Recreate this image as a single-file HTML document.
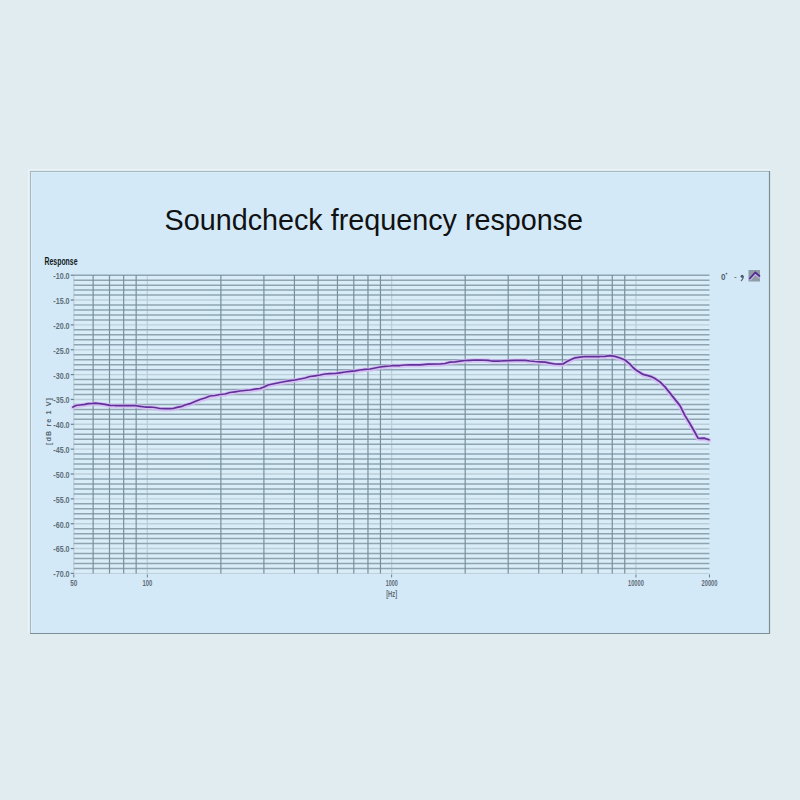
<!DOCTYPE html>
<html><head><meta charset="utf-8"><style>
html,body{margin:0;padding:0;}
body{width:800px;height:800px;background:#e1ecf0;position:relative;overflow:hidden;font-family:"Liberation Sans",sans-serif;}
svg{position:absolute;left:0;top:0;}
.tk{font-family:"Liberation Sans",sans-serif;font-size:9.3px;font-weight:bold;fill:#5f6d77;}
</style></head><body>
<svg width="800" height="800" viewBox="0 0 800 800">
<line x1="28" y1="169.5" x2="770" y2="169.5" stroke="#eaf2f7" stroke-width="1"/>
<line x1="28.5" y1="169" x2="28.5" y2="633" stroke="#eaf2f7" stroke-width="1"/>
<rect x="30" y="171" width="740" height="463" fill="#d3e9f8"/>
<line x1="30" y1="171.5" x2="769" y2="171.5" stroke="#a6b9c0" stroke-width="1"/>
<line x1="30.5" y1="171" x2="30.5" y2="633" stroke="#a6b9c0" stroke-width="1"/>
<line x1="769.5" y1="171" x2="769.5" y2="634" stroke="#7c8e96" stroke-width="1.2"/>
<line x1="30" y1="633.5" x2="770" y2="633.5" stroke="#7c8e96" stroke-width="1.2"/>
<line x1="31" y1="172.5" x2="768" y2="172.5" stroke="#daeef9" stroke-width="1"/>
<line x1="31.5" y1="172" x2="31.5" y2="632" stroke="#daeef9" stroke-width="1"/>
<text x="164.6" y="229.6" font-family="Liberation Sans" font-size="29.4" fill="#111" textLength="418.5" lengthAdjust="spacingAndGlyphs">Soundcheck frequency response</text>
<text x="44.5" y="264.6" font-family="Liberation Sans" font-weight="bold" font-size="10.6" fill="#111a22" textLength="33" lengthAdjust="spacingAndGlyphs">Response</text>
<rect x="73.8" y="275.2" width="635.68" height="298.20" fill="#d9edf9"/>
<line x1="73.8" y1="275.20" x2="73.8" y2="573.40" stroke="#bccfd9" stroke-width="1.2"/>
<line x1="147.34" y1="275.20" x2="147.34" y2="573.40" stroke="#bccfd9" stroke-width="1.3"/>
<line x1="391.64" y1="275.20" x2="391.64" y2="573.40" stroke="#bccfd9" stroke-width="1.3"/>
<line x1="635.94" y1="275.20" x2="635.94" y2="573.40" stroke="#bccfd9" stroke-width="1.3"/>
<line x1="73.8" y1="300.05" x2="709.48" y2="300.05" stroke="#bccfd9" stroke-width="1.4"/>
<line x1="73.8" y1="324.90" x2="709.48" y2="324.90" stroke="#bccfd9" stroke-width="1.4"/>
<line x1="73.8" y1="349.75" x2="709.48" y2="349.75" stroke="#bccfd9" stroke-width="1.4"/>
<line x1="73.8" y1="374.60" x2="709.48" y2="374.60" stroke="#bccfd9" stroke-width="1.4"/>
<line x1="73.8" y1="399.45" x2="709.48" y2="399.45" stroke="#bccfd9" stroke-width="1.4"/>
<line x1="73.8" y1="424.30" x2="709.48" y2="424.30" stroke="#bccfd9" stroke-width="1.4"/>
<line x1="73.8" y1="449.15" x2="709.48" y2="449.15" stroke="#bccfd9" stroke-width="1.4"/>
<line x1="73.8" y1="474.00" x2="709.48" y2="474.00" stroke="#bccfd9" stroke-width="1.4"/>
<line x1="73.8" y1="498.85" x2="709.48" y2="498.85" stroke="#bccfd9" stroke-width="1.4"/>
<line x1="73.8" y1="523.70" x2="709.48" y2="523.70" stroke="#bccfd9" stroke-width="1.4"/>
<line x1="73.8" y1="548.55" x2="709.48" y2="548.55" stroke="#bccfd9" stroke-width="1.4"/>
<line x1="73.8" y1="573.40" x2="709.48" y2="573.40" stroke="#bccfd9" stroke-width="1"/>
<line x1="73.8" y1="275.20" x2="709.48" y2="275.20" stroke="#8ea4b0" stroke-width="1.5"/>
<line x1="73.8" y1="280.17" x2="709.48" y2="280.17" stroke="#8ea4b0" stroke-width="1.5"/>
<line x1="73.8" y1="285.14" x2="709.48" y2="285.14" stroke="#8ea4b0" stroke-width="1.5"/>
<line x1="73.8" y1="290.11" x2="709.48" y2="290.11" stroke="#8ea4b0" stroke-width="1.5"/>
<line x1="73.8" y1="295.08" x2="709.48" y2="295.08" stroke="#8ea4b0" stroke-width="1.5"/>
<line x1="73.8" y1="305.02" x2="709.48" y2="305.02" stroke="#8ea4b0" stroke-width="1.5"/>
<line x1="73.8" y1="309.99" x2="709.48" y2="309.99" stroke="#8ea4b0" stroke-width="1.5"/>
<line x1="73.8" y1="314.96" x2="709.48" y2="314.96" stroke="#8ea4b0" stroke-width="1.5"/>
<line x1="73.8" y1="319.93" x2="709.48" y2="319.93" stroke="#8ea4b0" stroke-width="1.5"/>
<line x1="73.8" y1="329.87" x2="709.48" y2="329.87" stroke="#8ea4b0" stroke-width="1.5"/>
<line x1="73.8" y1="334.84" x2="709.48" y2="334.84" stroke="#8ea4b0" stroke-width="1.5"/>
<line x1="73.8" y1="339.81" x2="709.48" y2="339.81" stroke="#8ea4b0" stroke-width="1.5"/>
<line x1="73.8" y1="344.78" x2="709.48" y2="344.78" stroke="#8ea4b0" stroke-width="1.5"/>
<line x1="73.8" y1="354.72" x2="709.48" y2="354.72" stroke="#8ea4b0" stroke-width="1.5"/>
<line x1="73.8" y1="359.69" x2="709.48" y2="359.69" stroke="#8ea4b0" stroke-width="1.5"/>
<line x1="73.8" y1="364.66" x2="709.48" y2="364.66" stroke="#8ea4b0" stroke-width="1.5"/>
<line x1="73.8" y1="369.63" x2="709.48" y2="369.63" stroke="#8ea4b0" stroke-width="1.5"/>
<line x1="73.8" y1="379.57" x2="709.48" y2="379.57" stroke="#8ea4b0" stroke-width="1.5"/>
<line x1="73.8" y1="384.54" x2="709.48" y2="384.54" stroke="#8ea4b0" stroke-width="1.5"/>
<line x1="73.8" y1="389.51" x2="709.48" y2="389.51" stroke="#8ea4b0" stroke-width="1.5"/>
<line x1="73.8" y1="394.48" x2="709.48" y2="394.48" stroke="#8ea4b0" stroke-width="1.5"/>
<line x1="73.8" y1="404.42" x2="709.48" y2="404.42" stroke="#8ea4b0" stroke-width="1.5"/>
<line x1="73.8" y1="409.39" x2="709.48" y2="409.39" stroke="#8ea4b0" stroke-width="1.5"/>
<line x1="73.8" y1="414.36" x2="709.48" y2="414.36" stroke="#8ea4b0" stroke-width="1.5"/>
<line x1="73.8" y1="419.33" x2="709.48" y2="419.33" stroke="#8ea4b0" stroke-width="1.5"/>
<line x1="73.8" y1="429.27" x2="709.48" y2="429.27" stroke="#8ea4b0" stroke-width="1.5"/>
<line x1="73.8" y1="434.24" x2="709.48" y2="434.24" stroke="#8ea4b0" stroke-width="1.5"/>
<line x1="73.8" y1="439.21" x2="709.48" y2="439.21" stroke="#8ea4b0" stroke-width="1.5"/>
<line x1="73.8" y1="444.18" x2="709.48" y2="444.18" stroke="#8ea4b0" stroke-width="1.5"/>
<line x1="73.8" y1="454.12" x2="709.48" y2="454.12" stroke="#8ea4b0" stroke-width="1.5"/>
<line x1="73.8" y1="459.09" x2="709.48" y2="459.09" stroke="#8ea4b0" stroke-width="1.5"/>
<line x1="73.8" y1="464.06" x2="709.48" y2="464.06" stroke="#8ea4b0" stroke-width="1.5"/>
<line x1="73.8" y1="469.03" x2="709.48" y2="469.03" stroke="#8ea4b0" stroke-width="1.5"/>
<line x1="73.8" y1="478.97" x2="709.48" y2="478.97" stroke="#8ea4b0" stroke-width="1.5"/>
<line x1="73.8" y1="483.94" x2="709.48" y2="483.94" stroke="#8ea4b0" stroke-width="1.5"/>
<line x1="73.8" y1="488.91" x2="709.48" y2="488.91" stroke="#8ea4b0" stroke-width="1.5"/>
<line x1="73.8" y1="493.88" x2="709.48" y2="493.88" stroke="#8ea4b0" stroke-width="1.5"/>
<line x1="73.8" y1="503.82" x2="709.48" y2="503.82" stroke="#8ea4b0" stroke-width="1.5"/>
<line x1="73.8" y1="508.79" x2="709.48" y2="508.79" stroke="#8ea4b0" stroke-width="1.5"/>
<line x1="73.8" y1="513.76" x2="709.48" y2="513.76" stroke="#8ea4b0" stroke-width="1.5"/>
<line x1="73.8" y1="518.73" x2="709.48" y2="518.73" stroke="#8ea4b0" stroke-width="1.5"/>
<line x1="73.8" y1="528.67" x2="709.48" y2="528.67" stroke="#8ea4b0" stroke-width="1.5"/>
<line x1="73.8" y1="533.64" x2="709.48" y2="533.64" stroke="#8ea4b0" stroke-width="1.5"/>
<line x1="73.8" y1="538.61" x2="709.48" y2="538.61" stroke="#8ea4b0" stroke-width="1.5"/>
<line x1="73.8" y1="543.58" x2="709.48" y2="543.58" stroke="#8ea4b0" stroke-width="1.5"/>
<line x1="73.8" y1="553.52" x2="709.48" y2="553.52" stroke="#8ea4b0" stroke-width="1.5"/>
<line x1="73.8" y1="558.49" x2="709.48" y2="558.49" stroke="#8ea4b0" stroke-width="1.5"/>
<line x1="73.8" y1="563.46" x2="709.48" y2="563.46" stroke="#8ea4b0" stroke-width="1.5"/>
<line x1="73.8" y1="568.43" x2="709.48" y2="568.43" stroke="#8ea4b0" stroke-width="1.5"/>
<line x1="93.14" y1="275.20" x2="93.14" y2="573.40" stroke="#77909c" stroke-width="1.2"/>
<line x1="109.50" y1="275.20" x2="109.50" y2="573.40" stroke="#77909c" stroke-width="1.2"/>
<line x1="123.67" y1="275.20" x2="123.67" y2="573.40" stroke="#77909c" stroke-width="1.2"/>
<line x1="136.16" y1="275.20" x2="136.16" y2="573.40" stroke="#77909c" stroke-width="1.2"/>
<line x1="220.88" y1="275.20" x2="220.88" y2="573.40" stroke="#77909c" stroke-width="1.2"/>
<line x1="263.90" y1="275.20" x2="263.90" y2="573.40" stroke="#77909c" stroke-width="1.2"/>
<line x1="294.42" y1="275.20" x2="294.42" y2="573.40" stroke="#77909c" stroke-width="1.2"/>
<line x1="318.10" y1="275.20" x2="318.10" y2="573.40" stroke="#77909c" stroke-width="1.2"/>
<line x1="337.44" y1="275.20" x2="337.44" y2="573.40" stroke="#77909c" stroke-width="1.2"/>
<line x1="353.80" y1="275.20" x2="353.80" y2="573.40" stroke="#77909c" stroke-width="1.2"/>
<line x1="367.97" y1="275.20" x2="367.97" y2="573.40" stroke="#77909c" stroke-width="1.2"/>
<line x1="380.46" y1="275.20" x2="380.46" y2="573.40" stroke="#77909c" stroke-width="1.2"/>
<line x1="465.18" y1="275.20" x2="465.18" y2="573.40" stroke="#77909c" stroke-width="1.2"/>
<line x1="508.20" y1="275.20" x2="508.20" y2="573.40" stroke="#77909c" stroke-width="1.2"/>
<line x1="538.72" y1="275.20" x2="538.72" y2="573.40" stroke="#77909c" stroke-width="1.2"/>
<line x1="562.40" y1="275.20" x2="562.40" y2="573.40" stroke="#77909c" stroke-width="1.2"/>
<line x1="581.74" y1="275.20" x2="581.74" y2="573.40" stroke="#77909c" stroke-width="1.2"/>
<line x1="598.10" y1="275.20" x2="598.10" y2="573.40" stroke="#77909c" stroke-width="1.2"/>
<line x1="612.27" y1="275.20" x2="612.27" y2="573.40" stroke="#77909c" stroke-width="1.2"/>
<line x1="624.76" y1="275.20" x2="624.76" y2="573.40" stroke="#77909c" stroke-width="1.2"/>
<line x1="70.8" y1="275.20" x2="73.8" y2="275.20" stroke="#6a7f8a" stroke-width="1.2"/>
<text x="69.6" y="279.10" text-anchor="end" class="tk" textLength="16.3" lengthAdjust="spacingAndGlyphs">-10.0</text>
<line x1="70.8" y1="300.05" x2="73.8" y2="300.05" stroke="#6a7f8a" stroke-width="1.2"/>
<text x="69.6" y="303.95" text-anchor="end" class="tk" textLength="16.3" lengthAdjust="spacingAndGlyphs">-15.0</text>
<line x1="70.8" y1="324.90" x2="73.8" y2="324.90" stroke="#6a7f8a" stroke-width="1.2"/>
<text x="69.6" y="328.80" text-anchor="end" class="tk" textLength="16.3" lengthAdjust="spacingAndGlyphs">-20.0</text>
<line x1="70.8" y1="349.75" x2="73.8" y2="349.75" stroke="#6a7f8a" stroke-width="1.2"/>
<text x="69.6" y="353.65" text-anchor="end" class="tk" textLength="16.3" lengthAdjust="spacingAndGlyphs">-25.0</text>
<line x1="70.8" y1="374.60" x2="73.8" y2="374.60" stroke="#6a7f8a" stroke-width="1.2"/>
<text x="69.6" y="378.50" text-anchor="end" class="tk" textLength="16.3" lengthAdjust="spacingAndGlyphs">-30.0</text>
<line x1="70.8" y1="399.45" x2="73.8" y2="399.45" stroke="#6a7f8a" stroke-width="1.2"/>
<text x="69.6" y="403.35" text-anchor="end" class="tk" textLength="16.3" lengthAdjust="spacingAndGlyphs">-35.0</text>
<line x1="70.8" y1="424.30" x2="73.8" y2="424.30" stroke="#6a7f8a" stroke-width="1.2"/>
<text x="69.6" y="428.20" text-anchor="end" class="tk" textLength="16.3" lengthAdjust="spacingAndGlyphs">-40.0</text>
<line x1="70.8" y1="449.15" x2="73.8" y2="449.15" stroke="#6a7f8a" stroke-width="1.2"/>
<text x="69.6" y="453.05" text-anchor="end" class="tk" textLength="16.3" lengthAdjust="spacingAndGlyphs">-45.0</text>
<line x1="70.8" y1="474.00" x2="73.8" y2="474.00" stroke="#6a7f8a" stroke-width="1.2"/>
<text x="69.6" y="477.90" text-anchor="end" class="tk" textLength="16.3" lengthAdjust="spacingAndGlyphs">-50.0</text>
<line x1="70.8" y1="498.85" x2="73.8" y2="498.85" stroke="#6a7f8a" stroke-width="1.2"/>
<text x="69.6" y="502.75" text-anchor="end" class="tk" textLength="16.3" lengthAdjust="spacingAndGlyphs">-55.0</text>
<line x1="70.8" y1="523.70" x2="73.8" y2="523.70" stroke="#6a7f8a" stroke-width="1.2"/>
<text x="69.6" y="527.60" text-anchor="end" class="tk" textLength="16.3" lengthAdjust="spacingAndGlyphs">-60.0</text>
<line x1="70.8" y1="548.55" x2="73.8" y2="548.55" stroke="#6a7f8a" stroke-width="1.2"/>
<text x="69.6" y="552.45" text-anchor="end" class="tk" textLength="16.3" lengthAdjust="spacingAndGlyphs">-65.0</text>
<line x1="70.8" y1="573.40" x2="73.8" y2="573.40" stroke="#6a7f8a" stroke-width="1.2"/>
<text x="69.6" y="577.30" text-anchor="end" class="tk" textLength="16.3" lengthAdjust="spacingAndGlyphs">-70.0</text>
<line x1="73.80" y1="574.40" x2="73.80" y2="577.40" stroke="#6a7f8a" stroke-width="1"/>
<text x="73.80" y="586.3" text-anchor="middle" class="tk" textLength="7.1" lengthAdjust="spacingAndGlyphs">50</text>
<line x1="147.34" y1="574.40" x2="147.34" y2="577.40" stroke="#6a7f8a" stroke-width="1"/>
<text x="147.34" y="586.3" text-anchor="middle" class="tk" textLength="9.8" lengthAdjust="spacingAndGlyphs">100</text>
<line x1="391.64" y1="574.40" x2="391.64" y2="577.40" stroke="#6a7f8a" stroke-width="1"/>
<text x="391.64" y="586.3" text-anchor="middle" class="tk" textLength="12" lengthAdjust="spacingAndGlyphs">1000</text>
<line x1="635.94" y1="574.40" x2="635.94" y2="577.40" stroke="#6a7f8a" stroke-width="1"/>
<text x="635.94" y="586.3" text-anchor="middle" class="tk" textLength="15.9" lengthAdjust="spacingAndGlyphs">10000</text>
<line x1="709.48" y1="574.40" x2="709.48" y2="577.40" stroke="#6a7f8a" stroke-width="1"/>
<text x="709.48" y="586.3" text-anchor="middle" class="tk" textLength="15.9" lengthAdjust="spacingAndGlyphs">20000</text>
<text x="391.64" y="596.9" text-anchor="middle" class="tk" textLength="11" lengthAdjust="spacingAndGlyphs">[Hz]</text>
<text transform="translate(50.9,421.5) rotate(-90)" text-anchor="middle" class="tk" style="font-size:7.2px;fill:#55636d" textLength="47" lengthAdjust="spacing">[dB re 1 V]</text>
<path d="M73.0,407.00 L76.0,405.50 L80.0,405.00 L85.0,404.30 L88.0,403.70 L92.0,403.50 L95.0,403.20 L100.0,403.70 L105.0,404.30 L110.0,405.30 L115.0,405.50 L125.0,405.50 L135.0,405.50 L140.0,406.30 L145.0,407.00 L150.0,407.00 L155.0,407.50 L160.0,408.50 L165.0,408.70 L170.0,408.70 L173.0,408.50 L177.0,407.30 L182.0,406.30 L185.0,405.00 L190.0,403.70 L195.0,401.50 L200.0,399.50 L205.0,398.00 L210.0,396.00 L215.0,395.50 L220.0,394.50 L225.0,394.00 L230.0,392.50 L235.0,391.80 L240.0,391.00 L245.0,390.50 L250.0,390.00 L255.0,389.20 L260.0,388.50 L264.0,387.00 L268.0,385.00 L275.0,383.50 L280.0,382.50 L285.0,381.50 L290.0,380.70 L295.0,380.00 L300.0,379.00 L305.0,378.00 L310.0,376.50 L315.0,375.80 L320.0,375.00 L325.0,374.00 L330.0,373.70 L335.0,373.50 L340.0,372.80 L345.0,372.00 L350.0,371.30 L355.0,370.80 L360.0,370.00 L365.0,369.30 L370.0,369.00 L375.0,368.00 L380.0,367.00 L385.0,366.30 L390.0,366.00 L393.0,365.50 L400.0,365.50 L405.0,365.00 L410.0,364.80 L420.0,364.80 L428.0,364.20 L440.0,364.00 L445.0,363.50 L450.0,362.20 L455.0,361.80 L460.0,361.20 L465.0,360.50 L470.0,360.30 L475.0,360.00 L480.0,360.00 L488.0,360.30 L492.0,361.00 L500.0,361.00 L508.0,360.70 L515.0,360.30 L525.0,360.30 L530.0,361.00 L535.0,361.50 L540.0,361.80 L545.0,362.20 L550.0,363.20 L555.0,364.00 L560.0,364.20 L563.0,364.00 L567.0,361.50 L570.0,360.00 L575.0,357.80 L580.0,357.20 L585.0,356.50 L590.0,356.50 L600.0,356.50 L605.0,356.30 L610.0,355.70 L615.0,356.30 L620.0,358.00 L625.0,360.00 L630.0,364.20 L633.0,367.50 L636.0,370.00 L640.0,372.50 L643.0,374.40 L648.0,375.60 L652.0,376.90 L655.0,378.50 L660.0,381.90 L665.0,386.90 L670.0,393.10 L675.0,399.40 L680.0,405.60 L685.0,415.60 L690.0,423.75 L695.0,432.50 L698.0,438.10 L700.0,438.40 L704.0,438.10 L709.0,439.75" transform="translate(0,0.5)" fill="none" stroke="#d8baf4" stroke-width="4.6" stroke-linejoin="round" stroke-linecap="round" opacity="0.8"/>
<path d="M73.0,407.00 L76.0,405.50 L80.0,405.00 L85.0,404.30 L88.0,403.70 L92.0,403.50 L95.0,403.20 L100.0,403.70 L105.0,404.30 L110.0,405.30 L115.0,405.50 L125.0,405.50 L135.0,405.50 L140.0,406.30 L145.0,407.00 L150.0,407.00 L155.0,407.50 L160.0,408.50 L165.0,408.70 L170.0,408.70 L173.0,408.50 L177.0,407.30 L182.0,406.30 L185.0,405.00 L190.0,403.70 L195.0,401.50 L200.0,399.50 L205.0,398.00 L210.0,396.00 L215.0,395.50 L220.0,394.50 L225.0,394.00 L230.0,392.50 L235.0,391.80 L240.0,391.00 L245.0,390.50 L250.0,390.00 L255.0,389.20 L260.0,388.50 L264.0,387.00 L268.0,385.00 L275.0,383.50 L280.0,382.50 L285.0,381.50 L290.0,380.70 L295.0,380.00 L300.0,379.00 L305.0,378.00 L310.0,376.50 L315.0,375.80 L320.0,375.00 L325.0,374.00 L330.0,373.70 L335.0,373.50 L340.0,372.80 L345.0,372.00 L350.0,371.30 L355.0,370.80 L360.0,370.00 L365.0,369.30 L370.0,369.00 L375.0,368.00 L380.0,367.00 L385.0,366.30 L390.0,366.00 L393.0,365.50 L400.0,365.50 L405.0,365.00 L410.0,364.80 L420.0,364.80 L428.0,364.20 L440.0,364.00 L445.0,363.50 L450.0,362.20 L455.0,361.80 L460.0,361.20 L465.0,360.50 L470.0,360.30 L475.0,360.00 L480.0,360.00 L488.0,360.30 L492.0,361.00 L500.0,361.00 L508.0,360.70 L515.0,360.30 L525.0,360.30 L530.0,361.00 L535.0,361.50 L540.0,361.80 L545.0,362.20 L550.0,363.20 L555.0,364.00 L560.0,364.20 L563.0,364.00 L567.0,361.50 L570.0,360.00 L575.0,357.80 L580.0,357.20 L585.0,356.50 L590.0,356.50 L600.0,356.50 L605.0,356.30 L610.0,355.70 L615.0,356.30 L620.0,358.00 L625.0,360.00 L630.0,364.20 L633.0,367.50 L636.0,370.00 L640.0,372.50 L643.0,374.40 L648.0,375.60 L652.0,376.90 L655.0,378.50 L660.0,381.90 L665.0,386.90 L670.0,393.10 L675.0,399.40 L680.0,405.60 L685.0,415.60 L690.0,423.75 L695.0,432.50 L698.0,438.10 L700.0,438.40 L704.0,438.10 L709.0,439.75" fill="none" stroke="#61309a" stroke-width="1.75" stroke-linejoin="round" stroke-linecap="round"/>
<text x="721" y="279.5" class="tk" style="font-size:9px;fill:#55626b" textLength="4.5" lengthAdjust="spacingAndGlyphs">0</text>
<circle cx="726.5" cy="273.6" r="0.9" fill="#56636d"/>
<text x="734" y="278.5" class="tk" style="font-size:8px;fill:#6b7781">-</text>
<circle cx="742.1" cy="276.2" r="1.5" fill="#4b5862"/><path d="M743.3,276.6 Q743.2,279.4 741,280.9" fill="none" stroke="#4b5862" stroke-width="1.2"/>
<rect x="748.5" y="270" width="11.5" height="11.5" fill="#8e9ca6"/>
<polyline points="749.8,280 755.3,273.8 759.8,278" fill="none" stroke="#d6baf2" stroke-width="2.2" opacity="0.75"/>
<polyline points="749.3,279 755.3,272.5 760,276.5" fill="none" stroke="#512a8c" stroke-width="1.7"/>
</svg>
</body></html>
